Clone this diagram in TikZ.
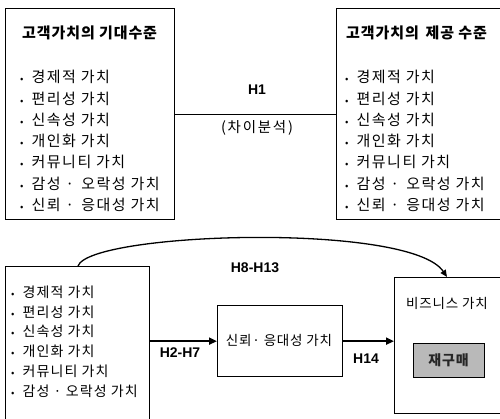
\documentclass[tikz,border=0pt]{standalone}
\usepackage{fontspec}
\setmainfont{Noto Sans CJK KR}
\newfontfamily\lat{Liberation Sans}
\usetikzlibrary{arrows.meta,calc}
\newcommand\myls[1]{\addfontfeatures{LetterSpace=#1}}
\newcommand\mybul{{\fontsize{10}{10}\selectfont •}\hspace{8pt}}
\begin{document}
\begin{tikzpicture}[x=1pt,y=-1pt,
  box/.style={draw, line width=1.3pt, rectangle, inner sep=0, anchor=north west},
  lst/.style={anchor=west, align=left, inner sep=0, font=\myls{10}\fontsize{15}{21.3}\selectfont},
  ttl/.style={anchor=west, inner sep=0, font=\myls{6}\fontsize{15}{17}\selectfont\bfseries},
  txt/.style={inner sep=0, font=\myls{6}\fontsize{13.5}{16}\selectfont},
  hl/.style={inner sep=0, font=\lat\fontsize{14}{16}\selectfont\bfseries},
  arr/.style={line width=1.8pt, -{Triangle[length=8pt,width=7pt]}},
  conn/.style={line width=1.1pt}]
\useasboundingbox (0,0) rectangle (500,418);
\clip (0,0) rectangle (500,418);
% top boxes
\node[box, minimum width=169pt, minimum height=211pt] (exp) at (5,8) {};
\node[box, minimum width=175pt, minimum height=211pt] (off) at (336,8) {};
\node[ttl] (expT) at (22,33) {고객가치의 기대수준};
\node[ttl] (offT) at (346,33) {고객가치의 \,제공 수준};
\node[lst] (expL) at (20,141) {\mybul 경제적 가치\\\mybul 편리성 가치\\\mybul 신속성 가치\\\mybul 개인화 가치\\\mybul 커뮤니티 가치\\\mybul 감성 · \,오락성 가치\\\mybul 신뢰 · \,응대성 가치};
\node[lst] (offL) at (345,141) {\mybul 경제적 가치\\\mybul 편리성 가치\\\mybul 신속성 가치\\\mybul 개인화 가치\\\mybul 커뮤니티 가치\\\mybul 감성 · \,오락성 가치\\\mybul 신뢰 · \,응대성 가치};
\draw[conn] (exp) -- (off);
\node[hl] (h1) at (257,90) {H1};
\node[txt, font=\myls{12}\fontsize{14.5}{16}\selectfont] (diff) at (257,128) {(차이분석)};
% bottom boxes
\node[box, minimum width=144pt, minimum height=170pt] (inp) at (5,266) {};
\node[lst, font=\myls{8}\fontsize{14}{19.8}\selectfont] (inpL) at (11,341.5) {\mybul 경제적 가치\\\mybul 편리성 가치\\\mybul 신속성 가치\\\mybul 개인화 가치\\\mybul 커뮤니티 가치\\\mybul 감성 · 오락성 가치};
\node[box, minimum width=125pt, minimum height=71pt] (trust) at (217,305) {};
\node[txt] (trustT) at (279,340) {신뢰· 응대성 가치};
\node[box, minimum width=112pt, minimum height=136pt] (biz) at (394,277) {};
\node[txt] (bizT) at (447,303) {비즈니스 가치};
\node[draw, line width=1pt, fill=gray!55, minimum width=71pt, minimum height=34pt, inner sep=0, font=\myls{6}\fontsize{14}{16}\selectfont\bfseries, text=black!85] (rebuy) at (448.5,360.5) {재구매};
% arrows
\draw[arr] (inp.east |- trust.west) -- (trust.west);
\node[hl] (h27) at (180,353) {H2-H7};
\draw[arr] (trust.east) -- (biz.west |- trust.east);
\node[hl] (h14) at (366,359) {H14};
\coordinate (cs) at ($(inp.north west)+(73,0)$);
\coordinate (ce) at ($(biz.north west)+(53,0)$);
\draw[line width=1.3pt, -{Triangle[length=7pt,width=6pt]}] (cs) .. controls (90,232) and (410,222) .. (ce);
\node[hl] (h813) at (255,268) {H8-H13};
\end{tikzpicture}
\end{document}
